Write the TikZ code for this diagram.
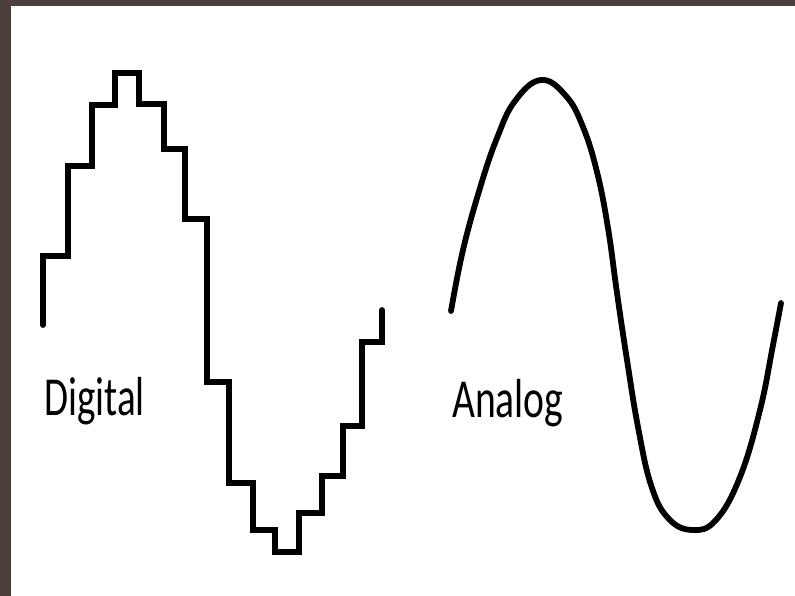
\documentclass[tikz,border=0pt]{standalone}
\usepackage{fontspec}
\setmainfont{Carlito}
\usepackage{xcolor}
\usepackage{tikz}
\usetikzlibrary{positioning,calc}
\definecolor{frameBrown}{HTML}{4A3F3B}

\begin{document}
\begin{tikzpicture}[
  x=1pt,y=-1pt,
  wave/.style={line width=5.8pt,black},
  label/.style={anchor=base west,inner sep=0pt,font=\fontsize{55}{60}\selectfont}
]
\useasboundingbox (0,0) rectangle (795,596);
% dark frame and white sheet
\fill[frameBrown] (0,0) rectangle (795,596);
\fill[white] (11,6) rectangle (795,596);

% staircase signal
\draw[wave,line join=miter,line cap=round]
  (43,325) |- (68,256) |- (92,166) |- (115,105) |- (139,73)
  |- (164,104) |- (185,149) |- (207,219) |- (229,382)
  |- (253,483) |- (275,530) |- (299,552) |- (322,513)
  |- (343,476) |- (362,426) |- (382,342) -- (382,310);

% smooth signal
\draw[wave,line cap=round] plot[smooth,tension=0.7] coordinates {
  (451,311) (463,250) (480,188) (497,138) (515,101) (541,80)
  (566,96) (583,127) (597,172) (608,228) (617,293) (627,360)
  (638,427) (651,485) (668,518) (692,530) (716,520) (740,477)
  (760,410) (773,345) (781,303)};

% labels
\node[label] (digital) at (44,415) {\scalebox{0.71}[1]{Digital}};
\node[label] (analog) at (452,417) {\scalebox{0.72}[1]{Analog}};
\end{tikzpicture}
\end{document}
